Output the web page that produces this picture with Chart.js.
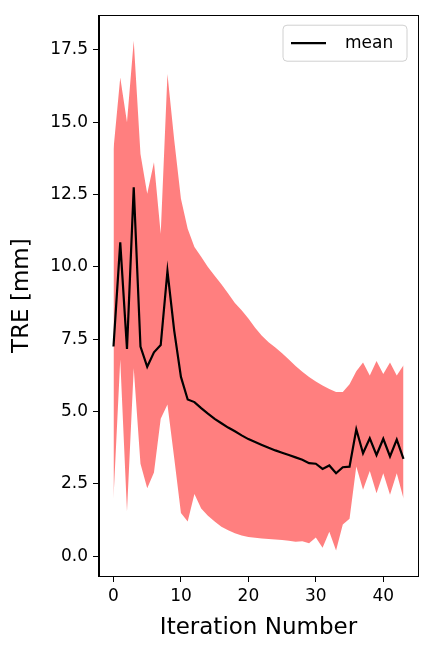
<!DOCTYPE html>
<html>
<head>
<meta charset="utf-8">
<script src="https://cdn.jsdelivr.net/npm/chart.js@4"></script>
<style>
  html, body { margin: 0; padding: 0; background: #fff; }
  #wrap { width: 439px; height: 651px; }
</style>
</head>
<body>
<div id="wrap"><canvas id="graphique" width="439" height="651"></canvas></div>
<script>
// Données
const iterations = Array.from({length: 44}, (_, i) => i);
const moyenne = [7.25, 10.85, 7.17, 12.75, 7.25, 6.55, 7.05, 7.3, 9.86, 7.8,
    6.2, 5.42, 5.33, 5.12, 4.93, 4.75, 4.6, 4.45, 4.32, 4.18,
    4.05, 3.95, 3.85, 3.75, 3.66, 3.58, 3.5, 3.42, 3.34, 3.22,
    3.2, 3.02, 3.14, 2.87, 3.08, 3.1, 4.39, 3.56, 4.08, 3.5,
    4.06, 3.45, 4.03, 3.37];
const borneHaute = [14.08, 16.55, 15.0, 17.82, 13.9, 12.53, 13.62, 11.15, 16.67, 14.4,
    12.36, 11.32, 10.69, 10.35, 10.0, 9.7, 9.4, 9.08, 8.75, 8.5,
    8.22, 7.9, 7.62, 7.4, 7.22, 7.02, 6.8, 6.58, 6.38, 6.2,
    6.04, 5.9, 5.78, 5.68, 5.68, 5.95, 6.4, 6.7, 6.25, 6.75,
    6.3, 6.7, 6.25, 6.6];
const borneBasse = [2.0, 6.8, 1.55, 6.5, 3.2, 2.35, 2.9, 4.75, 5.25, 3.4,
    1.5, 1.2, 2.15, 1.65, 1.4, 1.2, 1.02, 0.9, 0.8, 0.72,
    0.67, 0.64, 0.62, 0.6, 0.58, 0.56, 0.54, 0.5, 0.52, 0.45,
    0.65, 0.3, 0.85, 0.2, 1.1, 1.3, 3.1, 2.3, 2.95, 2.18,
    2.87, 2.13, 2.87, 2.0];
const ticksX = [0, 10, 20, 30, 40];
const ticksY = [0, 2.5, 5, 7.5, 10, 12.5, 15, 17.5];

const police = "'DejaVu Sans', sans-serif";

function points(valeurs) {
    return iterations.map((x, i) => ({x: x, y: valeurs[i]}));
}

// Cadre + légende dessinés à la main (style matplotlib)
const cadreEtLegende = {
    id: 'cadreEtLegende',
    afterDraw(chart) {
        const ctx = chart.ctx;
        const a = chart.chartArea;
        ctx.save();
        ctx.strokeStyle = '#000';
        ctx.lineWidth = 1;
        ctx.strokeRect(Math.round(a.left) - 0.5, Math.round(a.top) + 0.5,
            Math.round(a.right - a.left) + 1, Math.round(a.bottom - a.top));

        // légende
        const x0 = a.right - 135, y0 = a.top + 10, w = 124, h = 36, r = 4;
        ctx.beginPath();
        ctx.moveTo(x0 + r, y0);
        ctx.arcTo(x0 + w, y0, x0 + w, y0 + h, r);
        ctx.arcTo(x0 + w, y0 + h, x0, y0 + h, r);
        ctx.arcTo(x0, y0 + h, x0, y0, r);
        ctx.arcTo(x0, y0, x0 + w, y0, r);
        ctx.closePath();
        ctx.fillStyle = 'rgba(255,255,255,0.8)';
        ctx.fill();
        ctx.strokeStyle = '#d0d0d0';
        ctx.stroke();
        ctx.beginPath();
        ctx.moveTo(x0 + 8, y0 + 18);
        ctx.lineTo(x0 + 43, y0 + 18);
        ctx.strokeStyle = '#000';
        ctx.lineWidth = 2.2;
        ctx.stroke();
        ctx.fillStyle = '#000';
        ctx.font = "17px " + police;
        ctx.textBaseline = 'middle';
        ctx.fillText('mean', x0 + 62, y0 + 18);
        ctx.restore();
    }
};

let ctx = document.getElementById('graphique').getContext('2d');
let chart = new Chart(ctx, {
    type: 'line',
    data: {
        datasets: [{
            label: 'mean',
            data: points(moyenne),
            borderColor: '#000',
            borderWidth: 2.2,
            pointRadius: 0,
            tension: 0,
            fill: false,
            order: 0
        }, {
            label: 'haut',
            data: points(borneHaute),
            borderColor: 'rgba(0,0,0,0)',
            borderWidth: 0,
            pointRadius: 0,
            tension: 0,
            backgroundColor: 'rgba(255,0,0,0.5)',
            fill: '+1',
            order: 1
        }, {
            label: 'bas',
            data: points(borneBasse),
            borderColor: 'rgba(0,0,0,0)',
            borderWidth: 0,
            pointRadius: 0,
            tension: 0,
            fill: false,
            order: 2
        }]
    },
    options: {
        responsive: false,
        animation: false,
        events: [],
        layout: { padding: { left: 4, top: 12, right: 21, bottom: 5 } },
        plugins: { legend: { display: false }, tooltip: { enabled: false } },
        scales: {
            x: {
                type: 'linear',
                min: -2.15,
                max: 45.15,
                afterBuildTicks: s => { s.ticks = ticksX.map(v => ({value: v})); },
                afterFit: s => { s.height = 70; },
                grid: { drawOnChartArea: false, drawTicks: true, tickLength: 6, color: '#000' },
                border: { display: true, color: '#000' },
                ticks: { color: '#000', font: { family: police, size: 17 }, padding: 4, maxRotation: 0 },
                title: { display: true, text: 'Iteration Number', color: '#000', font: { family: police, size: 23 } }
            },
            y: {
                type: 'linear',
                min: -0.68,
                max: 18.7,
                afterBuildTicks: s => { s.ticks = ticksY.map(v => ({value: v})); },
                afterFit: s => { s.width = 95; },
                grid: { drawOnChartArea: false, drawTicks: true, tickLength: 6, color: '#000' },
                border: { display: true, color: '#000' },
                ticks: { color: '#000', font: { family: police, size: 17 }, padding: 5,
                    callback: v => v.toFixed(1) },
                title: { display: true, text: 'TRE [mm]', color: '#000', font: { family: police, size: 23 } }
            }
        }
    },
    plugins: [cadreEtLegende]
});
</script>
</body>
</html>
